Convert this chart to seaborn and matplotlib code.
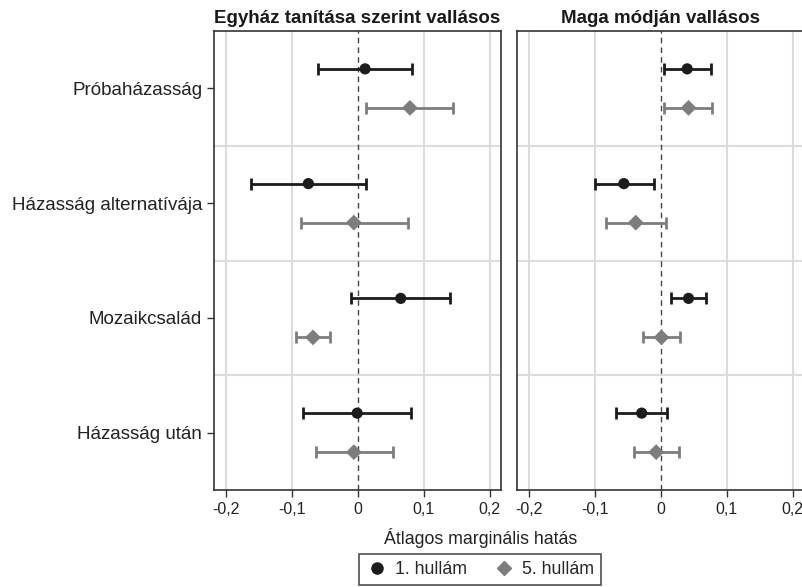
import numpy as np
import pandas as pd
import matplotlib
matplotlib.use('Agg')
import matplotlib.pyplot as plt
import seaborn as sns

# Kategóriák és panelek
categories = ["Próbaházasság", "Házasság alternatívája", "Mozaikcsalád", "Házasság után"]
panels = ["Egyház tanítása szerint vallásos", "Maga módján vallásos"]
waves = ["1. hullám", "5. hullám"]
xticks = [-0.2, -0.1, 0, 0.1, 0.2]
xtick_labels = ["-0,2", "-0,1", "0", "0,1", "0,2"]

# Egyház tanítása szerint vallásos
church_w1_est = [0.011, -0.075, 0.065, -0.001]
church_w1_lo = [-0.060, -0.162, -0.010, -0.083]
church_w1_hi = [0.082, 0.012, 0.139, 0.081]
church_w5_est = [0.079, -0.006, -0.068, -0.006]
church_w5_lo = [0.013, -0.086, -0.094, -0.064]
church_w5_hi = [0.145, 0.076, -0.042, 0.053]

# Maga módján vallásos
own_w1_est = [0.040, -0.056, 0.042, -0.029]
own_w1_lo = [0.005, -0.100, 0.016, -0.068]
own_w1_hi = [0.076, -0.010, 0.069, 0.010]
own_w5_est = [0.042, -0.038, 0.001, -0.007]
own_w5_lo = [0.005, -0.083, -0.027, -0.040]
own_w5_hi = [0.077, 0.008, 0.029, 0.028]

rows = []
for panel, series in zip(panels, [
        [(church_w1_est, church_w1_lo, church_w1_hi), (church_w5_est, church_w5_lo, church_w5_hi)],
        [(own_w1_est, own_w1_lo, own_w1_hi), (own_w5_est, own_w5_lo, own_w5_hi)]]):
    for wave, (est, lo, hi) in zip(waves, series):
        for i, cat in enumerate(categories):
            rows.append({"panel": panel, "wave": wave, "cat": cat, "pos": i,
                         "est": est[i], "lo": lo[i], "hi": hi[i]})
df = pd.DataFrame(rows)

sns.set_style("white")
plt.rcParams['font.family'] = ['Liberation Sans', 'DejaVu Sans']

colors = {"1. hullám": "#1c1c1c", "5. hullám": "#7d7d7d"}
markers = {"1. hullám": "o", "5. hullám": "D"}
offsets = {"1. hullám": -0.17, "5. hullám": 0.17}

fig = plt.figure(figsize=(8.03, 5.87), dpi=100)
ax1 = fig.add_axes([0.2665, 0.1652, 0.3574, 0.782])
ax2 = fig.add_axes([0.6438, 0.1652, 0.3574, 0.782])

for ax, panel in zip([ax1, ax2], panels):
    sub = df[df.panel == panel].copy()
    sub["y"] = sub["pos"] + sub["wave"].map(offsets)
    for x in [-0.2, -0.1, 0.1, 0.2]:
        ax.axvline(x, color="#dcdcdc", lw=1.5, zorder=0)
    for b in [0.5, 1.5, 2.5]:
        ax.axhline(b, color="#dcdcdc", lw=1.5, zorder=0)
    ax.axvline(0, color="#444444", lw=1, ls=(0, (4, 3)), zorder=1)
    for wave in waves:
        s = sub[sub.wave == wave]
        ax.errorbar(s["est"], s["y"], xerr=[s["est"] - s["lo"], s["hi"] - s["est"]],
                    fmt="none", ecolor=colors[wave], elinewidth=2, capsize=4,
                    capthick=2, zorder=2)
    sns.scatterplot(data=sub, x="est", y="y", hue="wave", style="wave",
                    palette=colors, markers=markers, s=65, linewidth=0,
                    ax=ax, zorder=3, legend=False)
    ax.set_xlim(-0.218, 0.217)
    ax.set_ylim(3.5, -0.5)
    ax.set_xticks(xticks)
    ax.set_xticklabels(xtick_labels, fontsize=11.5, color="#222222")
    ax.set_xlabel("")
    ax.set_ylabel("")
    ax.set_title(panel, fontsize=13.5, fontweight="bold", color="#1a1a1a", pad=6)
    for sp in ax.spines.values():
        sp.set_color("#333333")
        sp.set_linewidth(1.2)
    ax.tick_params(axis="x", length=5, width=1, color="#333333", direction="out", bottom=True)

ax1.set_yticks(range(len(categories)))
ax1.set_yticklabels(categories, fontsize=13.5, color="#222222")
ax1.tick_params(axis="y", length=5, width=1, color="#333333", direction="out", left=True)
ax2.set_yticks(range(len(categories)))
ax2.set_yticklabels([])
ax2.tick_params(axis="y", length=0)

fig.text(0.598, 0.083, "Átlagos marginális hatás", ha="center", va="center",
         fontsize=12.8, color="#222222")

handles = [plt.Line2D([], [], ls="none", marker=markers[w], color=colors[w],
                      markersize=8 if w == "1. hullám" else 7.5, label=w) for w in waves]
leg = fig.legend(handles=handles, loc="lower center", bbox_to_anchor=(0.598, -0.012),
                 ncol=2, fontsize=12.8, frameon=True, fancybox=False, edgecolor="#222222",
                 handletextpad=0.4, columnspacing=1.5, borderpad=0.4, handlelength=1.2)
leg.get_frame().set_linewidth(1.2)

fig.savefig("out.png", dpi=100)
plt.close(fig)
